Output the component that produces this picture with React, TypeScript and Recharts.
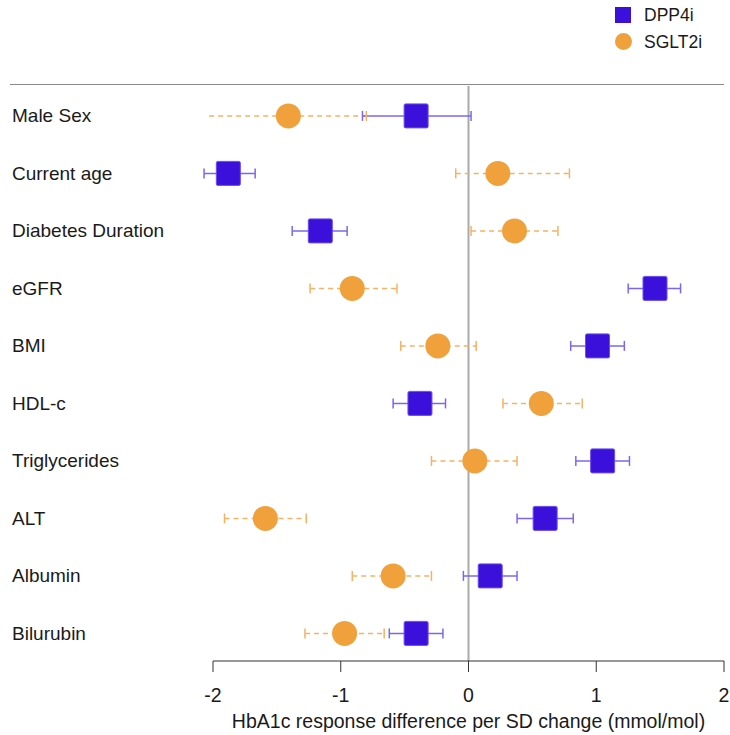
import React from "react"
import { ScatterChart, Scatter, XAxis, YAxis, ErrorBar, ReferenceLine } from "recharts"

// covariates, top to bottom
const categories = [
  "Male Sex",
  "Current age",
  "Diabetes Duration",
  "eGFR",
  "BMI",
  "HDL-c",
  "Triglycerides",
  "ALT",
  "Albumin",
  "Bilurubin",
]

// DPP4i estimates and 95% CI
const dppMean = [-0.41, -1.88, -1.16, 1.46, 1.01, -0.38, 1.05, 0.6, 0.17, -0.41]
const dppLow = [-0.83, -2.07, -1.38, 1.25, 0.8, -0.59, 0.84, 0.38, -0.04, -0.62]
const dppHigh = [0.02, -1.67, -0.95, 1.66, 1.22, -0.18, 1.26, 0.82, 0.38, -0.2]

// SGLT2i estimates and 95% CI
const sgltMean = [-1.41, 0.23, 0.36, -0.91, -0.24, 0.57, 0.05, -1.59, -0.59, -0.97]
const sgltLow = [-2.03, -0.1, 0.02, -1.24, -0.53, 0.27, -0.29, -1.91, -0.91, -1.28]
const sgltHigh = [-0.8, 0.79, 0.7, -0.56, 0.06, 0.89, 0.38, -1.27, -0.29, -0.66]

const xTicks = [-2, -1, 0, 1, 2]

const DPP_COLOR = "#3b10da"
const SGLT_COLOR = "#f0a13b"
const SGLT_CI = "#f5b262"
const FONT = "'Liberation Sans', Arial, sans-serif"

const build = (mean: number[], lo: number[], hi: number[]) =>
  categories.map((name, i) => ({
    name,
    row: i,
    value: mean[i],
    err: [mean[i] - lo[i], hi[i] - mean[i]],
  }))

const dppData = build(dppMean, dppLow, dppHigh)
const sgltData = build(sgltMean, sgltLow, sgltHigh)
// ends of the SGLT2i intervals, drawn as solid caps (the line itself is dashed)
const sgltCaps = categories.flatMap((name, i) => [
  { name, row: i, value: sgltLow[i] },
  { name, row: i, value: sgltHigh[i] },
])

const Square = (props: any) => {
  const { cx, cy } = props
  return <rect x={cx - 12} y={cy - 12} width={24} height={24} rx={1.5} fill={DPP_COLOR} stroke="#6a4ef0" strokeWidth={1} />
}

const Dot = (props: any) => {
  const { cx, cy } = props
  return <circle cx={cx} cy={cy} r={12.5} fill={SGLT_COLOR} />
}

const Cap = (props: any) => {
  const { cx, cy } = props
  return <line x1={cx} x2={cx} y1={cy - 5} y2={cy + 5} stroke={SGLT_CI} strokeWidth={1.5} />
}

const RowTick = (props: any) => {
  const { y, payload } = props
  return (
    <text x={12} y={y} dy={6.5} textAnchor="start" fontSize={19} fill="#1a1a1a" fontFamily={FONT}>
      {categories[payload.value]}
    </text>
  )
}

const LegendBox = () => (
  <div
    style={{
      position: "absolute",
      left: 615,
      top: 2,
      fontFamily: FONT,
      fontSize: 17.5,
      color: "#1a1a1a",
      lineHeight: "26.5px",
    }}
  >
    <div style={{ display: "flex", alignItems: "center" }}>
      <span style={{ width: 16, height: 16, background: DPP_COLOR, display: "inline-block", marginRight: 13 }} />
      DPP4i
    </div>
    <div style={{ display: "flex", alignItems: "center" }}>
      <span style={{ width: 17, height: 17, borderRadius: "50%", background: SGLT_COLOR, display: "inline-block", marginRight: 12 }} />
      SGLT2i
    </div>
  </div>
)

export default function App() {
  return (
    <div style={{ position: "relative", width: 730, height: 735, background: "#fff" }}>
      <style>{"body{margin:0}"}</style>
      <ScatterChart width={730} height={735} margin={{ top: 86, right: 6, bottom: 0, left: 0 }}>
        <XAxis
          type="number"
          dataKey="value"
          domain={[-2, 2]}
          allowDataOverflow
          ticks={xTicks}
          tickSize={11}
          tickMargin={16}
          stroke="#333"
          height={74}
          tick={{ fill: "#1a1a1a", fontSize: 19.5, fontFamily: FONT }}
          label={{
            value: "HbA1c response difference per SD change (mmol/mol)",
            position: "insideBottom",
            offset: 7,
            fill: "#1a1a1a",
            fontSize: 19.5,
            fontFamily: FONT,
          }}
        />
        <YAxis
          type="number"
          dataKey="row"
          domain={[-0.52, 9.48]}
          allowDataOverflow
          reversed
          ticks={categories.map((_, i) => i)}
          width={213}
          axisLine={false}
          tickLine={false}
          tick={<RowTick />}
        />
        <ReferenceLine x={0} stroke="#aaaaaa" strokeWidth={2} />
        <Scatter name="SGLT2i" data={sgltData} fill={SGLT_COLOR} shape={<Dot />} isAnimationActive={false}>
          <ErrorBar dataKey="err" direction="x" width={0} stroke={SGLT_CI} strokeWidth={1.5} strokeDasharray="5 4" />
        </Scatter>
        <Scatter name="SGLT2i CI" data={sgltCaps} shape={<Cap />} legendType="none" isAnimationActive={false} />
        <Scatter name="DPP4i" data={dppData} fill={DPP_COLOR} shape={<Square />} isAnimationActive={false}>
          <ErrorBar dataKey="err" direction="x" width={5} stroke="#7d66ee" strokeWidth={1.5} />
        </Scatter>
      </ScatterChart>
      <LegendBox />
      <div style={{ position: "absolute", left: 10, top: 84, width: 714, borderTop: "1.5px solid #8a8a8a" }} />
    </div>
  )
}
